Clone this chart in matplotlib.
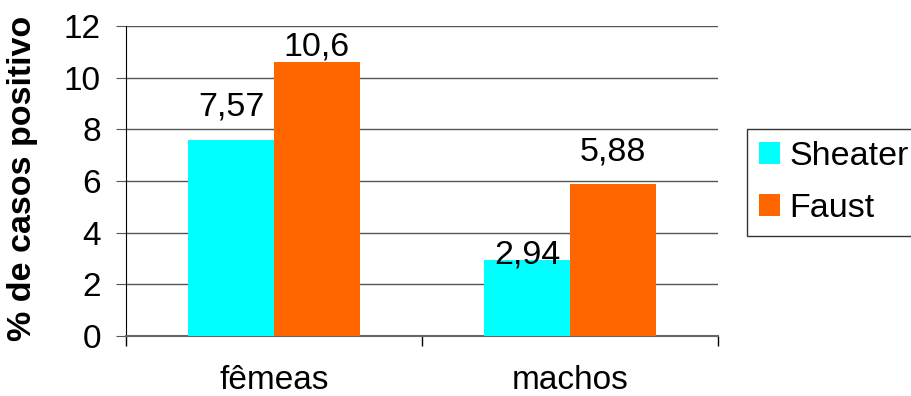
import matplotlib
matplotlib.use('Agg')
import matplotlib.pyplot as plt
import numpy as np

plt.rcParams['font.family'] = ['Liberation Sans', 'DejaVu Sans']

# Data
categories = ['fêmeas', 'machos']
series_names = ['Sheater', 'Faust']
sheater = [7.57, 2.94]
faust = [10.6, 5.88]
colors = ['#00FFFF', '#FF6600']

# label offsets above bar tops (pixels), as in the original
label_offsets = [[18, -10], [0, 17]]

fig = plt.figure(figsize=(9.12, 3.96), dpi=100)
ax = fig.add_axes([126 / 912, 1 - 336 / 396, 592 / 912, 310 / 396])

x = np.arange(len(categories))
width = 0.29
series = [sheater, faust]
for i, (vals, name, col) in enumerate(zip(series, series_names, colors)):
    pos = x + (i - 0.5) * width
    bars = ax.bar(pos, vals, width, color=col, label=name, zorder=3)
    for b, v, off in zip(bars, vals, label_offsets[i]):
        ax.annotate(f'{v:g}'.replace('.', ','),
                    (b.get_x() + b.get_width() / 2, v),
                    xytext=(0, off * 0.72), textcoords='offset points',
                    ha='center', va='bottom', fontsize=24.5, zorder=4)

ax.set_xlim(-0.5, 1.5)
ax.set_ylim(0, 12)
ax.set_yticks(range(0, 13, 2))
ax.yaxis.grid(True, color='#555555', linewidth=1)
ax.set_axisbelow(True)

ax.set_xticks(x)
ax.set_xticklabels(categories, fontsize=24)
ax.tick_params(axis='x', which='major', length=0, pad=21)
ax.set_xticks([-0.5, 0.5, 1.5], minor=True)
ax.tick_params(axis='x', which='minor', length=7, color='black', width=1)
ax.tick_params(axis='y', labelsize=24, length=7, color='#555555', pad=11)

for s in ['top', 'right']:
    ax.spines[s].set_visible(False)
ax.spines['left'].set_color('black')
ax.spines['bottom'].set_color('#666666')
ax.spines['bottom'].set_linewidth(1.5)

ax.set_ylabel('% de casos positivo', fontsize=24.5, fontweight='bold')
ax.yaxis.set_label_coords(-0.149, 0.51)

leg = ax.legend(loc='upper left', bbox_to_anchor=(747 / 912, 1 - 129 / 396),
                bbox_transform=fig.transFigure, fontsize=24.5, frameon=True,
                fancybox=False, edgecolor='black', handlelength=0.63,
                handleheight=0.6, handletextpad=0.26, borderpad=0.35,
                labelspacing=0.62, borderaxespad=0)
leg.get_frame().set_linewidth(1)

fig.savefig('out.png', dpi=100)
